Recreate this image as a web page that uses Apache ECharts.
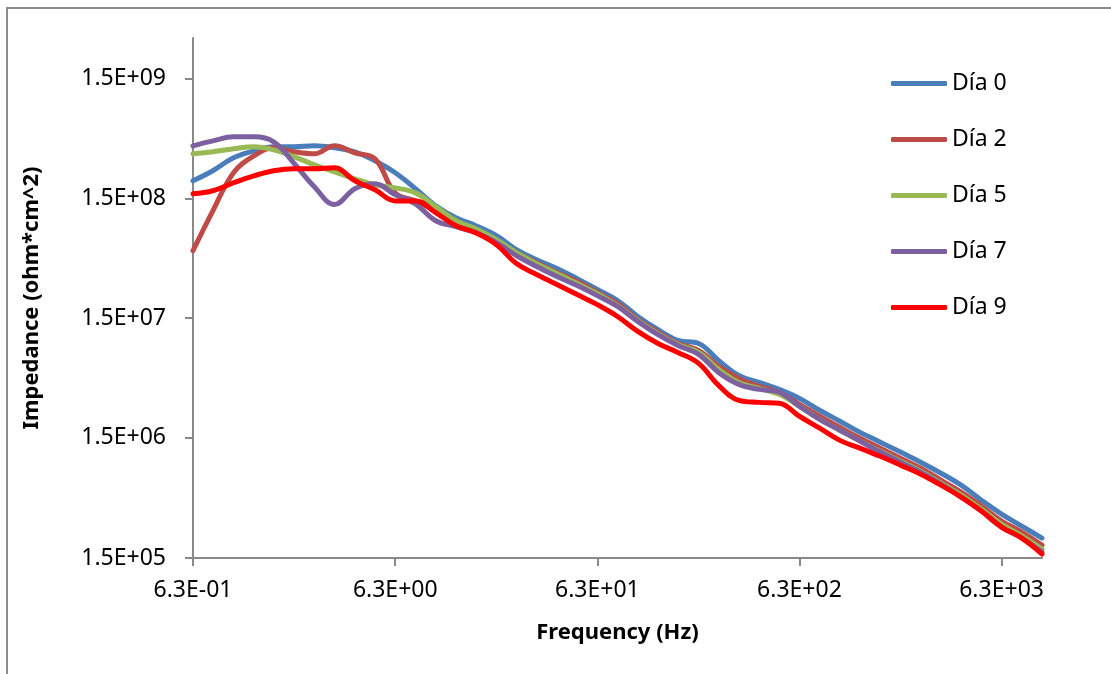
<!DOCTYPE html>
<html>
<head>
<meta charset="utf-8">
<script src="https://cdn.jsdelivr.net/npm/echarts@6/dist/echarts.min.js"></script>
<style>html,body{margin:0;padding:0;background:#fff}#c{width:1111px;height:674px}</style>
</head>
<body>
<div id="c"></div>
<script>
const freq = [0.63, 0.79, 1.0, 1.26, 1.58, 2.0, 2.51, 3.16, 3.98, 5.01, 6.31, 7.94, 10, 12.6, 15.8, 20, 25.1, 31.6, 39.8, 50.1, 63.1, 79.4, 100, 126, 158, 200, 251, 316, 398, 501, 631, 794, 1000, 1259, 1585, 1995, 2512, 3162, 3981, 5012, 6310, 7943, 10000];
const seriesNames = ['Día 0', 'Día 2', 'Día 5', 'Día 7', 'Día 9'];
const dia0 = [2.12e8, 2.57e8, 3.30e8, 3.77e8, 4.07e8, 4.07e8, 4.15e8, 3.99e8, 3.70e8, 3.11e8, 2.47e8, 1.82e8, 1.31e8, 1.04e8, 8.94e7, 7.38e7, 5.64e7, 4.65e7, 3.92e7, 3.23e7, 2.62e7, 2.12e7, 1.56e7, 1.21e7, 9.83e6, 9.28e6, 6.70e6, 5.02e6, 4.39e6, 3.84e6, 3.23e6, 2.57e6, 2.08e6, 1.68e6, 1.39e6, 1.15e6, 9.47e5, 7.66e5, 6.09e5, 4.56e5, 3.49e5, 2.77e5, 2.20e5];
const dia2 = [5.53e7, 1.19e8, 2.47e8, 3.42e8, 3.99e8, 3.70e8, 3.56e8, 4.15e8, 3.63e8, 3.23e8, 1.68e8, 1.44e8, 1.19e8, 9.83e7, 8.12e7, 6.70e7, 5.32e7, 4.39e7, 3.63e7, 3.05e7, 2.47e7, 2.00e7, 1.47e7, 1.15e7, 9.28e6, 8.12e6, 5.97e6, 4.74e6, 4.07e6, 3.63e6, 2.88e6, 2.29e6, 1.85e6, 1.50e6, 1.24e6, 1.02e6, 8.43e5, 6.70e5, 5.32e5, 4.07e5, 3.05e5, 2.47e5, 1.92e5];
const dia5 = [3.56e8, 3.70e8, 3.92e8, 4.07e8, 3.84e8, 3.36e8, 2.88e8, 2.52e8, 2.20e8, 1.96e8, 1.85e8, 1.68e8, 1.29e8, 9.83e7, 8.43e7, 6.83e7, 5.32e7, 4.31e7, 3.56e7, 2.94e7, 2.42e7, 1.92e7, 1.44e7, 1.12e7, 9.11e6, 7.81e6, 5.64e6, 4.39e6, 3.92e6, 3.49e6, 2.77e6, 2.16e6, 1.75e6, 1.42e6, 1.17e6, 9.65e5, 7.96e5, 6.33e5, 5.02e5, 3.84e5, 2.88e5, 2.29e5, 1.78e5];
const dia7 = [4.15e8, 4.56e8, 4.93e8, 4.93e8, 4.48e8, 2.94e8, 1.89e8, 1.34e8, 1.82e8, 2.00e8, 1.62e8, 1.36e8, 9.83e7, 8.76e7, 7.81e7, 6.45e7, 5.02e7, 4.07e7, 3.36e7, 2.83e7, 2.33e7, 1.89e7, 1.42e7, 1.10e7, 8.94e6, 7.52e6, 5.32e6, 4.23e6, 3.84e6, 3.63e6, 2.77e6, 2.16e6, 1.75e6, 1.42e6, 1.15e6, 9.47e5, 7.81e5, 6.20e5, 4.84e5, 3.70e5, 2.72e5, 2.20e5, 1.68e5];
const dia9 = [1.65e8, 1.75e8, 2.04e8, 2.33e8, 2.57e8, 2.67e8, 2.67e8, 2.72e8, 2.12e8, 1.78e8, 1.44e8, 1.44e8, 1.15e8, 8.94e7, 7.81e7, 6.20e7, 4.31e7, 3.49e7, 2.88e7, 2.38e7, 1.96e7, 1.56e7, 1.17e7, 9.28e6, 7.81e6, 6.33e6, 4.15e6, 3.11e6, 2.99e6, 2.94e6, 2.29e6, 1.82e6, 1.44e6, 1.24e6, 1.06e6, 8.94e5, 7.52e5, 6.09e5, 4.84e5, 3.70e5, 2.72e5, 2.20e5, 1.62e5];
const xTickLabels = ['6.3E-01', '6.3E+00', '6.3E+01', '6.3E+02', '6.3E+03'];
const yTickLabels = ['1.5E+05', '1.5E+06', '1.5E+07', '1.5E+08', '1.5E+09'];
const colors = ['#4A7EBB', '#BE4B48', '#98B954', '#7D60A0', '#FF0000'];

const allSeries = [dia0, dia2, dia5, dia7, dia9];

function fmt(labels, base, firstExp) {
  return function (v) {
    const e = Math.log10(v / base);
    const n = Math.round(e);
    if (Math.abs(e - n) > 0.01) return '';
    const idx = n - firstExp;
    return labels[idx] !== undefined ? labels[idx] : '';
  };
}

const FONT = 'Noto Sans';
const chart = echarts.init(document.getElementById('c'), null, { renderer: 'canvas' });
chart.setOption({
  animation: false,
  backgroundColor: '#fff',
  color: colors,
  graphic: [{
    type: 'rect', shape: { x: 7, y: 8, width: 1200, height: 800 },
    style: { fill: 'none', stroke: '#8C8C8C', lineWidth: 2 }, silent: true, z: -1
  }],
  grid: { left: 193, top: 38, right: 69, bottom: 116, containLabel: false },
  legend: {
    orient: 'vertical', left: 891, top: 72, padding: 0,
    icon: 'roundRect',
    itemWidth: 56, itemHeight: 5, itemGap: 33,
    textStyle: { fontFamily: FONT, fontSize: 23, color: '#000' },
    itemStyle: { borderWidth: 0 },
    data: seriesNames
  },
  xAxis: {
    type: 'log', min: 0.63, max: 10000, interval: 1,
    name: 'Frequency (Hz)', nameLocation: 'middle', nameGap: 64,
    nameTextStyle: { fontFamily: FONT, fontSize: 22, fontWeight: 'bold', color: '#000' },
    axisLine: { show: true, lineStyle: { color: '#898989', width: 2 } },
    axisTick: { show: true, length: 8, lineStyle: { color: '#898989', width: 2 } },
    axisLabel: { fontFamily: FONT, fontSize: 23, color: '#000', margin: 21, formatter: fmt(xTickLabels, 0.63, 0), showMaxLabel: false },
    splitLine: { show: false }
  },
  yAxis: {
    type: 'log', min: 1.5e5, max: 3.3e9, interval: 1,
    name: 'Impedance (ohm*cm^2)', nameLocation: 'middle', nameGap: 150,
    nameTextStyle: { fontFamily: FONT, fontSize: 22, fontWeight: 'bold', color: '#000' },
    axisLine: { show: true, lineStyle: { color: '#898989', width: 2 } },
    axisTick: { show: true, length: 8, lineStyle: { color: '#898989', width: 2 } },
    axisLabel: { fontFamily: FONT, fontSize: 23, color: '#000', margin: 27, formatter: fmt(yTickLabels, 1.5e5, 0), showMaxLabel: false },
    splitLine: { show: false }
  },
  series: allSeries.map((arr, k) => ({
    name: seriesNames[k],
    type: 'line',
    data: freq.map((f, i) => [f, arr[i]]),
    smooth: 0.4,
    symbol: 'none',
    lineStyle: { width: 5, color: colors[k], cap: 'round', join: 'round' },
    itemStyle: { color: colors[k] }
  }))
});
</script>
</body>
</html>
